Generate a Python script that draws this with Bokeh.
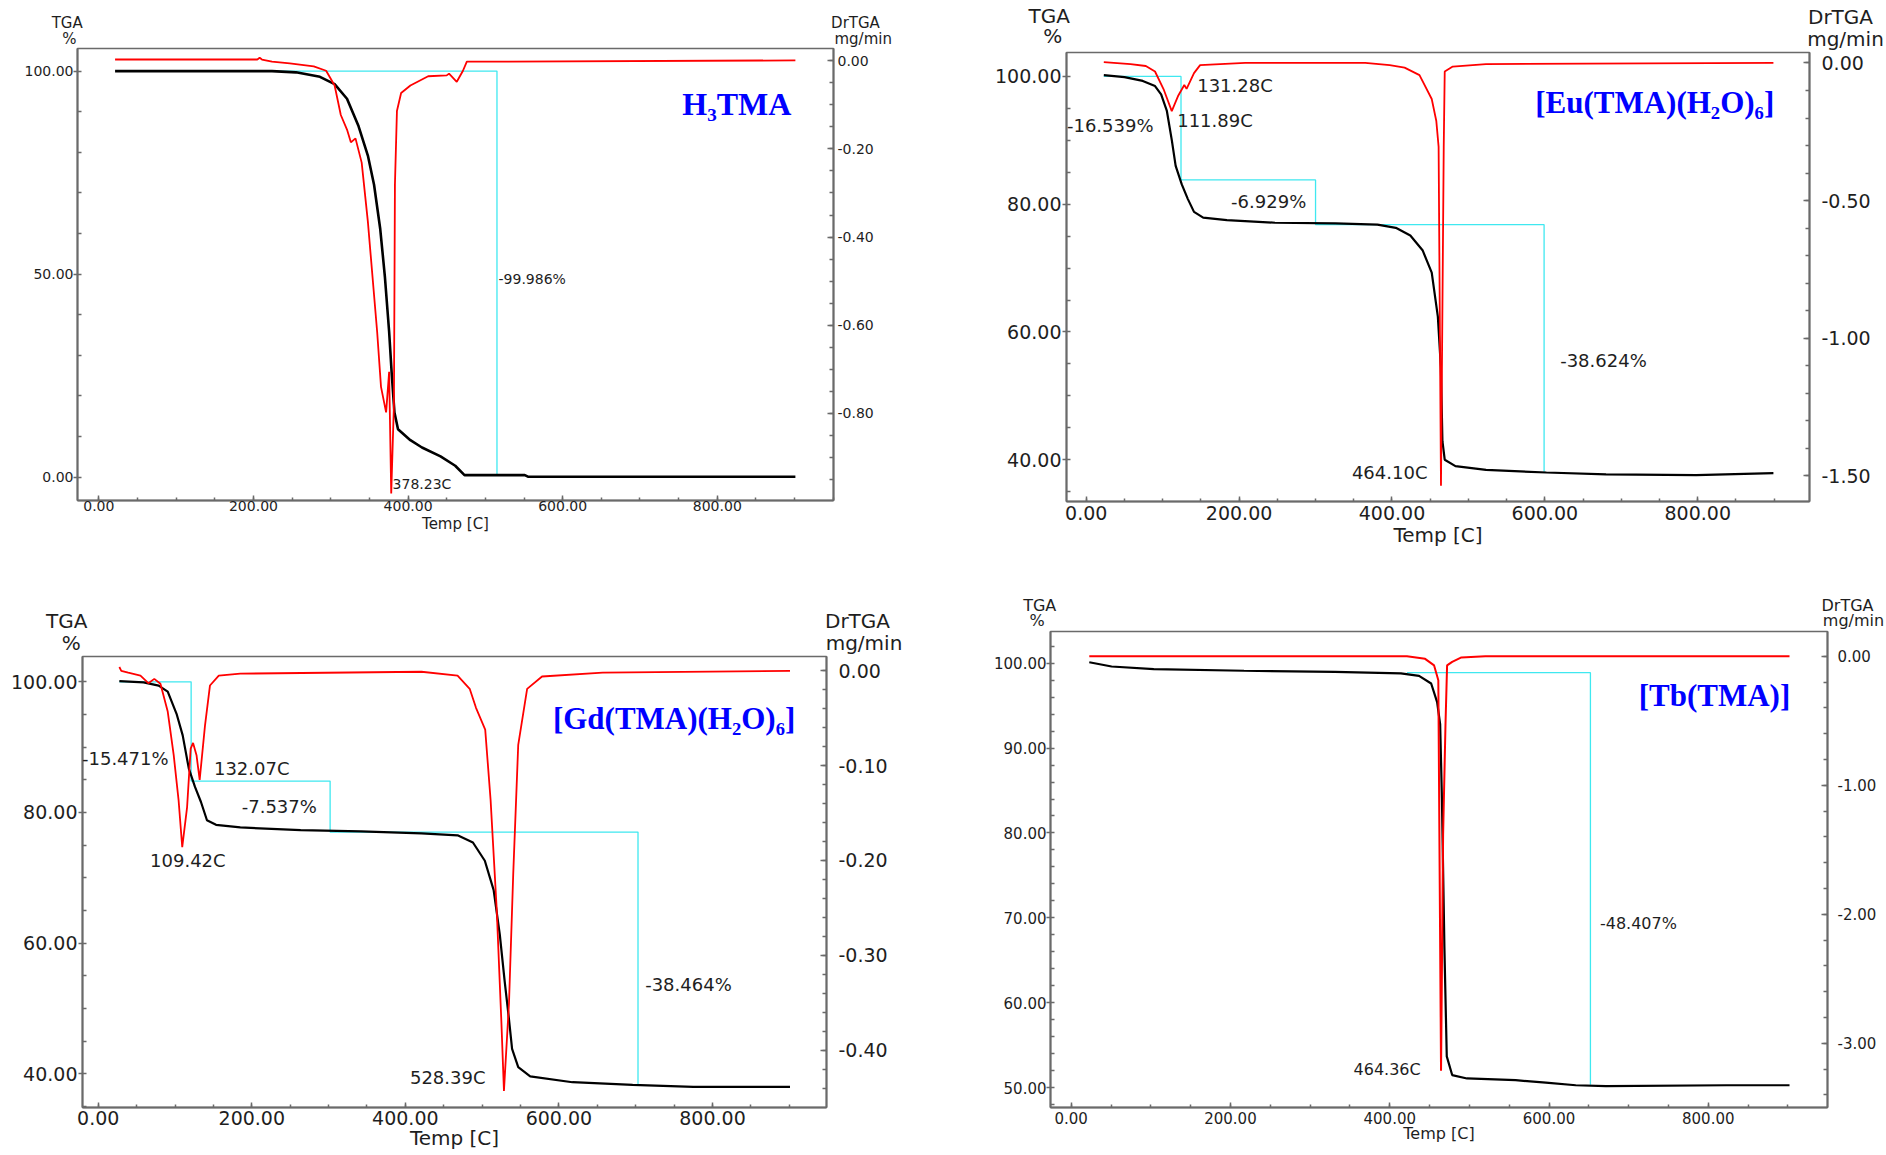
from bokeh.plotting import figure
from bokeh.models import Range1d, LinearAxis, FixedTicker, NumeralTickFormatter, Label, ColumnDataSource
from bokeh.core.properties import value
from bokeh.layouts import column, row
from bokeh.embed import file_html
from bokeh.resources import INLINE

# ---------------- data ----------------
# Panel A : H3TMA
h3tma_tga_temp = [21, 100, 224, 255, 286, 305, 321, 336, 348, 356, 364, 370, 375.5, 379, 382.4, 387, 403, 418, 442, 461, 473, 551, 555, 901]
h3tma_tga = [100, 100, 100, 99.7, 98.6, 96.8, 93.2, 86.4, 79.2, 72.0, 61.1, 49.4, 35.8, 25, 15.9, 11.8, 9.1, 7.3, 5.1, 2.8, 0.5, 0.5, 0.1, 0.1]
h3tma_dtg_temp = [21, 205, 208, 211, 224, 247, 278, 294, 305, 313, 321, 326, 332, 340, 348, 360, 365, 371.6, 375.5, 378.2, 381.7, 383, 385.6, 391, 403, 426, 450, 453, 463, 471, 476, 901]
h3tma_dtg = [0.003, 0.003, 0.007, 0.003, -0.002, -0.006, -0.0125, -0.0225, -0.056, -0.123, -0.156, -0.185, -0.176, -0.231, -0.365, -0.615, -0.74, -0.798, -0.706, -0.982, -0.78, -0.281, -0.114, -0.073, -0.056, -0.035, -0.033, -0.029, -0.0475, -0.0225, -0.002, 0.001]
h3tma_step_temp = [224, 515, 515]
h3tma_step_tga = [100, 100, 0.5]

# Panel B : [Eu(TMA)(H2O)6]
eu_tga_temp = [23, 50, 74, 90, 98, 105.5, 112, 117, 125, 133, 141, 153, 184, 247, 326, 381, 405, 424, 440, 452, 460, 464, 466, 469, 483, 523, 602, 680, 798, 899]
eu_tga = [100.2, 99.9, 99.3, 98.5, 97.2, 94.6, 90, 86, 83.1, 80.8, 78.8, 77.9, 77.5, 77.1, 77, 76.8, 76.3, 75.1, 72.8, 69.3, 62.4, 54.4, 42.9, 40, 39, 38.4, 38, 37.7, 37.6, 37.9]
eu_dtg_temp = [23, 58, 78, 90, 101.6, 111.9, 120.5, 128.3, 131.3, 141, 149, 208, 365, 397, 416.5, 436, 452, 458, 461, 464.1, 467.7, 469, 479.5, 523, 899]
eu_dtg = [0.003, -0.004, -0.011, -0.031, -0.098, -0.175, -0.118, -0.08, -0.094, -0.037, -0.008, 0, 0, -0.008, -0.017, -0.044, -0.131, -0.211, -0.305, -1.536, -0.305, -0.031, -0.013, -0.004, 0]
eu_step_temp = [23, 124, 124, 300, 300, 599, 599]
eu_step_tga = [100, 100, 83.8, 83.8, 76.8, 76.8, 38.1]

# Panel C : [Gd(TMA)(H2O)6]
gd_tga_temp = [27.5, 59, 78.7, 90.5, 102, 110, 118, 126, 133.8, 141.6, 153.4, 185, 263.6, 342, 421, 468, 488, 503.5, 515, 523, 529.5, 535, 539, 547, 562.6, 617.6, 696, 775, 901]
gd_tga = [100.1, 99.9, 99.4, 98.5, 95.1, 91.8, 86.7, 83.9, 81.6, 78.8, 78.1, 77.7, 77.3, 77.1, 76.8, 76.5, 75.4, 72.6, 68.1, 61.3, 54, 48.3, 43.8, 41, 39.6, 38.7, 38.3, 38, 38]
gd_dtg_temp = [27.5, 30, 39, 55, 65.3, 73, 81, 90.5, 98.3, 104.6, 109.4, 115.7, 120.4, 123.5, 128, 132.1, 139, 145.5, 157, 185, 421, 468, 483.8, 492, 504, 511, 519, 525, 528.4, 535, 540.5, 547, 558.6, 578, 657, 901]
gd_dtg = [0.004, 0.0, -0.002, -0.005, -0.013, -0.0085, -0.0136, -0.043, -0.089, -0.136, -0.186, -0.144, -0.082, -0.076, -0.089, -0.115, -0.058, -0.0155, -0.005, -0.003, -0.001, -0.005, -0.019, -0.039, -0.062, -0.136, -0.252, -0.369, -0.443, -0.35, -0.214, -0.078, -0.019, -0.006, -0.002, 0.0]
gd_step_temp = [27.5, 121, 121, 302, 302, 703, 703]
gd_step_tga = [100, 100, 84.8, 84.8, 77.0, 77.0, 38.3]

# Panel D : [Tb(TMA)]
tb_tga_temp = [22.7, 50.7, 103.7, 217, 331, 414, 436.8, 452, 459.5, 463.3, 465.5, 468.6, 471.6, 478.4, 497, 558, 596, 633.6, 671.5, 823, 902]
tb_tga = [100.1, 99.6, 99.3, 99.1, 98.96, 98.8, 98.5, 97.6, 95.4, 92.8, 84.1, 66.7, 53.7, 51.5, 51.1, 50.9, 50.6, 50.3, 50.2, 50.3, 50.3]
tb_dtg_temp = [22.7, 421.6, 444.4, 455.7, 461, 464.4, 467, 470, 472, 478.4, 490, 520, 902]
tb_dtg = [0.0, 0.0, -0.02, -0.071, -0.186, -3.214, -1.386, -0.529, -0.071, -0.043, -0.009, 0.0, 0.0]
tb_step_temp = [421.6, 652, 652]
tb_step_tga = [98.87, 98.87, 50.35]

# tick values and axis titles
temp_ticks = [0, 200, 400, 600, 800]
temp_minor = list(range(0, 951, 50))
axis_titles = ["TGA", "%", "DrTGA", "mg/min"]
x_title = "Temp [C]"

FONT = "DejaVu Sans"
SERIF = "Liberation Serif"
AX = "#6a6a6a"
TXT = "#1e1e1e"
W = 943


def style_axis(ax, fs, tick_in, tick_out, minor_in, standoff):
    ax.axis_line_color = AX
    ax.axis_line_width = 2
    ax.major_tick_line_color = AX
    ax.minor_tick_line_color = AX
    ax.major_tick_line_width = 1.5
    ax.minor_tick_line_width = 1.5
    ax.major_tick_in = tick_in
    ax.major_tick_out = tick_out
    ax.minor_tick_in = minor_in
    ax.minor_tick_out = 0
    ax.major_label_standoff = standoff
    ax.major_label_text_font = FONT
    ax.major_label_text_font_size = f"{fs}px"
    ax.major_label_text_color = TXT
    ax.formatter = NumeralTickFormatter(format="0.00")


def panel(h, borders, xr, yr, y2r, y_major, y_minor, y2_major, y2_minor, fs, stand, xl_fs, xl_stand):
    bl, br, bt, bb = borders
    p = figure(width=W, height=h, title=None, x_range=Range1d(*xr), y_range=Range1d(*yr),
               output_backend="svg", toolbar_location=None, frame_align=False,
               min_border_left=bl, min_border_right=br, min_border_top=bt, min_border_bottom=bb)
    p.extra_y_ranges = {"dtg": Range1d(*y2r)}
    p.grid.visible = False
    p.outline_line_color = AX
    p.outline_line_width = 1.5
    p.background_fill_color = "white"
    p.border_fill_color = "white"
    sx, sl, sr = stand
    xa = p.xaxis[0]
    xa.ticker = FixedTicker(ticks=temp_ticks, minor_ticks=temp_minor)
    style_axis(xa, fs, 5, 0, 3, sx)
    xa.axis_label = x_title
    xa.axis_label_text_font = FONT
    xa.axis_label_text_font_style = "normal"
    xa.axis_label_text_font_size = f"{xl_fs}px"
    xa.axis_label_text_color = TXT
    xa.axis_label_standoff = xl_stand
    p.yaxis.ticker = FixedTicker(ticks=y_major, minor_ticks=y_minor)
    style_axis(p.yaxis[0], fs, 0, 4, 4, sl)
    ax2 = LinearAxis(y_range_name="dtg", ticker=FixedTicker(ticks=y2_major, minor_ticks=y2_minor))
    style_axis(ax2, fs, 6, 0, 4, sr)
    p.add_layout(ax2, "right")
    return p


def header(h, xs, ys, fs):
    """Strip above a panel that carries the axis titles (TGA / % and DrTGA / mg/min)."""
    p = figure(width=W, height=h, title=None, x_range=Range1d(0, W), y_range=Range1d(h, 0),
               output_backend="svg", toolbar_location=None, min_border=0, frame_align=False,
               x_axis_type=None, y_axis_type=None, outline_line_color=None)
    src = ColumnDataSource(dict(x=xs, y=ys, t=axis_titles))
    p.text(x="x", y="y", text="t", source=src, text_font=value(FONT), text_font_size=f"{fs}px",
           text_align="center", text_baseline="middle", text_color=TXT)
    return p


def txt(p, x, y, text, fs, align="center", color=TXT, font=FONT, style="normal"):
    p.add_layout(Label(x=x, y=y, text=text, text_font_size=f"{fs}px", text_align=align,
                       text_baseline="middle", text_color=color, text_font=font,
                       text_font_style=style))


def curves(p, st, sy, tt, ty, dt, dy, bw, rw):
    p.line(st, sy, line_color="#3fe8f0", line_width=1.3)
    p.line(tt, ty, line_color="black", line_width=bw)
    p.line(dt, dy, line_color="#ff0000", line_width=rw, y_range_name="dtg")


def frange(a, b, s):
    n = int(round((b - a) / s))
    return [round(a + i * s, 4) for i in range(n + 1)]


# ---------------- Panel A ----------------
hA = header(47, [66.7, 69, 855, 862.7], [22.5, 38.3, 22.5, 38.3], 15)
pA = panel(531, (77, 110, 1, 78), (-27.6, 950.3), (-5.76, 105.57), (-0.998, 0.028),
           [0, 50, 100], frange(0, 100, 10), [0.0, -0.2, -0.4, -0.6, -0.8], frange(-0.95, 0, 0.05),
           14, (0, 0, 4), 15, 1)
curves(pA, h3tma_step_temp, h3tma_step_tga, h3tma_tga_temp, h3tma_tga, h3tma_dtg_temp, h3tma_dtg, 2.6, 1.8)
txt(pA, 517, 48.7, "-99.986%", 14, align="left")
txt(pA, 380, -1.8, "378.23C", 14, align="left")
txt(pA, 825.3, 91.85, "H₃TMA", 32, color="#0000ff", font=SERIF, style="bold")

# ---------------- Panel B ----------------
hB = header(50, [105.8, 109.3, 897, 902], [15.5, 35.5, 16.5, 38], 20)
pB = panel(528, (123, 77, 2, 77), (-25.8, 946.2), (33.46, 103.75), (-1.593, 0.038),
           [40, 60, 80, 100], frange(35, 100, 5), [0.0, -0.5, -1.0, -1.5], frange(-1.5, 0, 0.1),
           19, (4, 1, 12), 20, 0)
curves(pB, eu_step_temp, eu_step_tga, eu_tga_temp, eu_tga, eu_dtg_temp, eu_dtg, 2.2, 1.8)
txt(pB, 31.4, 92.3, "-16.539%", 18)
txt(pB, 119, 93.1, "111.89C", 18, align="left")
txt(pB, 145.2, 98.6, "131.28C", 18, align="left")
txt(pB, 238.7, 80.5, "-6.929%", 18)
txt(pB, 620, 55.5, "-38.624%", 18, align="left")
txt(pB, 397, 37.94, "464.10C", 18)
txt(pB, 743.7, 95.9, "[Eu(TMA)(H₂O)₆]", 31, color="#0000ff", font=SERIF, style="bold")

# ---------------- Panel C ----------------
hC = header(76, [66.3, 70.7, 857, 863.5], [42.7, 64, 42.7, 64], 20)
pC = panel(501, (82, 117, 2, 48), (-20.5, 948.5), (34.83, 103.87), (-0.4605, 0.0151),
           [40, 60, 80, 100], frange(35, 100, 5), [0.0, -0.1, -0.2, -0.3, -0.4], frange(-0.44, 0, 0.02),
           19, (3, 1, 12), 20, -2)
curves(pC, gd_step_temp, gd_step_tga, gd_tga_temp, gd_tga, gd_dtg_temp, gd_dtg, 2.2, 1.8)
txt(pC, 35.2, 88.24, "-15.471%", 18)
txt(pC, 199.9, 86.77, "132.07C", 18)
txt(pC, 235.8, 80.88, "-7.537%", 18)
txt(pC, 116.7, 72.6, "109.42C", 18)
txt(pC, 768.7, 53.63, "-38.464%", 18)
txt(pC, 455.2, 39.45, "528.39C", 18)
txt(pC, 750, 94.38, "[Gd(TMA)(H₂O)₆]", 31, color="#0000ff", font=SERIF, style="bold")

# ---------------- Panel D ----------------
hD = header(51, [96.2, 93.7, 904, 910], [26.5, 41.5, 27, 41.5], 16)
pD = panel(526, (107, 59, 2, 48), (-26, 949.7), (47.68, 103.72), (-3.498, 0.192),
           [50, 60, 70, 80, 90, 100], frange(48, 102, 2), [0.0, -1.0, -2.0, -3.0], frange(-3.4, 0.0, 0.2),
           15, (4, 0, 10), 16, -3)
curves(pD, tb_step_temp, tb_step_tga, tb_tga_temp, tb_tga, tb_dtg_temp, tb_dtg, 2.2, 2.0)
txt(pD, 712.3, 69.39, "-48.407%", 16)
txt(pD, 396.7, 52.12, "464.36C", 16)
txt(pD, 807.8, 96.13, "[Tb(TMA)]", 31, color="#0000ff", font=SERIF, style="bold")

layout = column(row(column(hA, pA), column(hB, pB)), row(column(hC, pC), column(hD, pD)))
open("out.html", "w").write(file_html(layout, INLINE))
